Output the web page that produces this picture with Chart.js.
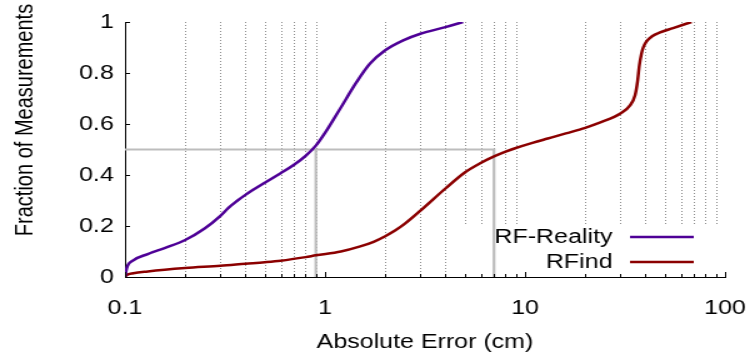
<!DOCTYPE html>
<html>
<head>
<meta charset="utf-8">
<script src="https://cdn.jsdelivr.net/npm/chart.js@4"></script>
<style>
  body { margin: 0; background: #fff; }
</style>
</head>
<body>
<!-- drawn at 600 wide, shown at 750 wide: the reference is stretched the same way -->
<canvas id="cdf" width="600" height="360" style="width:750px;height:360px"></canvas>
<script>
"use strict";

// absolute error (cm) -> fraction of measurements
var realityX = [0.1, 0.102, 0.11, 0.13, 0.16, 0.2, 0.25, 0.3, 0.33, 0.36, 0.4, 0.45, 0.5, 0.6, 0.7, 0.8, 0.9, 1.0, 1.19, 1.44, 1.68, 2.0, 2.46, 3.0, 4.0, 4.9];
var realityY = [0, 0.035, 0.065, 0.09, 0.115, 0.145, 0.19, 0.24, 0.272, 0.296, 0.322, 0.348, 0.37, 0.407, 0.44, 0.475, 0.515, 0.565, 0.66, 0.765, 0.837, 0.889, 0.928, 0.954, 0.98, 1.0];

var rfindX = [0.1, 0.102, 0.11, 0.13, 0.2, 0.3, 0.4, 0.5, 0.6, 0.8, 0.9, 1.2, 1.5, 1.75, 2.0, 2.25, 2.5, 3.0, 4.0, 5.0, 6.0, 7.0, 8.0, 9.0, 11, 13, 16, 20, 24, 30, 33.5, 35.5, 36.5, 37.3, 38.2, 39, 40.5, 43, 47, 55, 68];
var rfindY = [0, 0.008, 0.015, 0.022, 0.035, 0.044, 0.052, 0.058, 0.064, 0.078, 0.085, 0.1, 0.12, 0.138, 0.16, 0.183, 0.208, 0.26, 0.347, 0.41, 0.447, 0.473, 0.492, 0.506, 0.527, 0.543, 0.563, 0.585, 0.607, 0.641, 0.673, 0.713, 0.765, 0.83, 0.875, 0.9, 0.924, 0.943, 0.958, 0.976, 1.0];

// grey median guides
var medianX = [0.1, 7, 7];
var medianY = [0.5, 0.5, 0];
var median2X = [0.9, 0.9];
var median2Y = [0, 0.5];

var xMajorTicks = [0.1, 1, 10, 100];
var xMinorTicks = [0.2, 0.3, 0.4, 0.5, 0.6, 0.7, 0.8, 0.9, 2, 3, 4, 5, 6, 7, 8, 9, 20, 30, 40, 50, 60, 70, 80, 90];
var yTicks = [0, 0.2, 0.4, 0.6, 0.8, 1];

var seriesNames = ["RF-Reality", "RFind"];
var seriesColors = ["#4e0096", "#8b0000"];

function pts(xs, ys) {
  return xs.map(function (v, i) { return { x: v, y: ys[i] }; });
}

var FONT = "Liberation Sans, Arial, sans-serif";
Chart.defaults.font.family = FONT;
Chart.defaults.font.size = 20;
Chart.defaults.color = "#000";

var gnuFrame = {
  id: "gnuFrame",
  beforeDatasetsDraw: function (chart) {
    var ctx = chart.ctx, a = chart.chartArea, x = chart.scales.x;
    ctx.save();
    // dotted grid at minor ticks
    ctx.strokeStyle = "#8c8c8c";
    ctx.lineWidth = 1;
    ctx.setLineDash([1, 2]);
    xMinorTicks.forEach(function (v) {
      var px = Math.round(x.getPixelForValue(v)) + 0.5;
      ctx.beginPath();
      ctx.moveTo(px, a.top);
      ctx.lineTo(px, a.bottom);
      ctx.stroke();
    });
    ctx.setLineDash([]);
    // opaque key box
    ctx.fillStyle = "#fff";
    ctx.fillRect(362, 224, a.right - 362, a.bottom - 224 - 1);
    ctx.restore();
  },
  afterDatasetsDraw: function (chart) {
    var ctx = chart.ctx, a = chart.chartArea, x = chart.scales.x, y = chart.scales.y;
    ctx.save();
    ctx.strokeStyle = "#000";
    ctx.lineWidth = 1;
    // inward ticks
    yTicks.forEach(function (v) {
      var py = Math.round(y.getPixelForValue(v)) + 0.5;
      ctx.beginPath();
      ctx.moveTo(a.left, py);
      ctx.lineTo(a.left + 4, py);
      ctx.stroke();
    });
    xMajorTicks.forEach(function (v) {
      var px = Math.round(x.getPixelForValue(v)) + 0.5;
      ctx.beginPath();
      ctx.moveTo(px, a.bottom);
      ctx.lineTo(px, a.bottom - 5);
      ctx.stroke();
    });
    xMinorTicks.forEach(function (v) {
      var px = Math.round(x.getPixelForValue(v)) + 0.5;
      ctx.beginPath();
      ctx.moveTo(px, a.bottom);
      ctx.lineTo(px, a.bottom - 3);
      ctx.stroke();
    });

    // key
    ctx.font = "20px " + FONT;
    ctx.fillStyle = "#000";
    ctx.textAlign = "right";
    ctx.textBaseline = "middle";
    var rows = [237, 262];
    seriesNames.forEach(function (name, i) {
      ctx.fillText(name, 490, rows[i]);
      ctx.strokeStyle = seriesColors[i];
      ctx.lineWidth = 2.5;
      ctx.beginPath();
      ctx.moveTo(504, rows[i]);
      ctx.lineTo(555, rows[i]);
      ctx.stroke();
    });

    // axis titles
    ctx.textAlign = "center";
    ctx.textBaseline = "alphabetic";
    ctx.fillText("Absolute Error (cm)", (a.left + a.right) / 2, 348);
    ctx.translate(25.5, 120);
    ctx.rotate(-Math.PI / 2);
    ctx.fillText("Fraction of Measurements", 0, 0);
    ctx.restore();
  }
};

new Chart(document.getElementById("cdf"), {
  type: "line",
  data: {
    datasets: [
      {
        label: seriesNames[0],
        data: pts(realityX, realityY),
        borderColor: seriesColors[0],
        borderWidth: 2.5,
        pointRadius: 0,
        cubicInterpolationMode: "monotone"
      },
      {
        label: seriesNames[1],
        data: pts(rfindX, rfindY),
        borderColor: seriesColors[1],
        borderWidth: 2.5,
        pointRadius: 0,
        cubicInterpolationMode: "monotone"
      },
      {
        data: pts(medianX, medianY),
        borderColor: "#bdbdbd",
        borderWidth: 2.2,
        pointRadius: 0,
        tension: 0
      },
      {
        data: pts(median2X, median2Y),
        borderColor: "#bdbdbd",
        borderWidth: 2.2,
        pointRadius: 0,
        tension: 0
      }
    ]
  },
  options: {
    responsive: false,
    devicePixelRatio: 1,
    animation: false,
    layout: {
      padding: { left: 0, right: 20, top: 22, bottom: 0 }
    },
    plugins: {
      legend: { display: false },
      tooltip: { enabled: false }
    },
    scales: {
      x: {
        type: "logarithmic",
        min: 0.1,
        max: 100,
        grid: { display: false },
        border: { display: true, color: "#000", width: 1 },
        afterBuildTicks: function (scale) {
          scale.ticks = xMajorTicks.map(function (v) { return { value: v }; });
        },
        afterFit: function (scale) {
          scale.height = 83;
          scale.paddingLeft = 0;
          scale.paddingRight = 0;
        },
        ticks: {
          autoSkip: false,
          maxRotation: 0,
          padding: 11,
          callback: function (v) { return String(v); }
        }
      },
      y: {
        min: 0,
        max: 1,
        grid: { display: false },
        border: { display: true, color: "#000", width: 1 },
        afterBuildTicks: function (scale) {
          scale.ticks = yTicks.map(function (v) { return { value: v }; });
        },
        afterFit: function (scale) { scale.width = 100; },
        ticks: {
          padding: 1,
          callback: function (v) { return String(+v.toFixed(1)); }
        }
      }
    }
  },
  plugins: [gnuFrame]
});
</script>
</body>
</html>
